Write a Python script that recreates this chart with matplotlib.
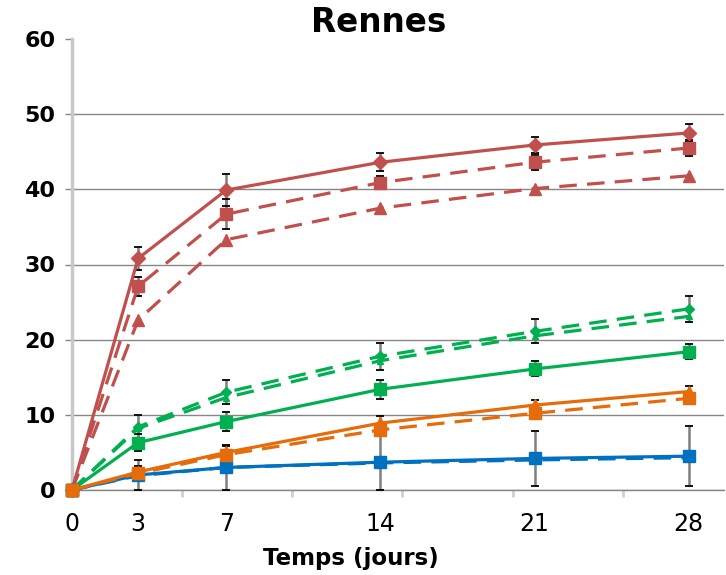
import numpy as np
import matplotlib
matplotlib.use("Agg")
import matplotlib.pyplot as plt

# --- données (jours / valeurs moyennes / écarts) ---
jours = [0, 3, 7, 14, 21, 28]

rouge_plein = [0, 30.8, 39.9, 43.6, 45.9, 47.5]
rouge_plein_err = [0, 1.5, 2.1, 1.2, 1.1, 1.2]
rouge_carre = [0, 27.1, 36.7, 40.9, 43.6, 45.5]
rouge_carre_err = [0, 1.3, 2.0, 0.9, 1.0, 1.0]
rouge_tri = [0, 22.6, 33.3, 37.5, 40.1, 41.8]

vert_plein = [0, 6.3, 9.1, 13.4, 16.1, 18.4]
vert_plein_err = [0, 1.1, 1.3, 1.3, 1.0, 1.0]
vert_tiret1 = [0, 8.4, 13.0, 17.8, 21.1, 24.1]
vert_tiret2 = [0, 8.2, 12.3, 17.2, 20.5, 23.1]
vert_tiret_err = [0, 1.6, 1.6, 1.8, 1.6, 1.7]

orange_plein = [0, 2.4, 5.0, 8.9, 11.3, 13.1]
orange_plein_err = [0, 0.8, 0.8, 0.9, 0.7, 0.8]
orange_tiret = [0, 2.2, 4.7, 8.0, 10.2, 12.2]

bleu_plein = [0, 2.0, 3.0, 3.7, 4.2, 4.5]
bleu_err = [0, 2.0, 3.0, 3.7, 3.7, 4.0]
bleu_tiret = [0, 1.9, 3.0, 3.6, 4.0, 4.3]

ROUGE = '#C0504D'
VERT = '#00B050'
ORANGE = '#E46C0A'
BLEU = '#0070C0'

fig = plt.figure(figsize=(7.26, 5.75), dpi=100)
ax = fig.add_axes([72 / 726, 1 - 490 / 575, 652 / 726, 451 / 575])

TIRETS = (5.5, 3.2)
LW = 2.3


def serie(y, couleur, marqueur, ms, err=None, tiret=False, z=3):
    kw = dict(color=couleur, lw=LW, marker=marqueur, ms=ms, mec=couleur,
              mfc=couleur, zorder=z, clip_on=False)
    if tiret:
        kw['dashes'] = TIRETS
    if err is not None:
        ax.errorbar(jours, y, yerr=err, fmt='none', ecolor='#7F7F7F',
                    elinewidth=1.8, capsize=0, zorder=z - 0.5, clip_on=False)
        # petites barres noires aux extrémités
        y_arr = np.array(y)
        e_arr = np.array(err)
        m = e_arr > 0
        ax.plot(np.array(jours)[m], (y_arr + e_arr)[m], ls='none', marker='_',
                ms=6, mew=1.3, color='black', zorder=z - 0.4, clip_on=False)
        ax.plot(np.array(jours)[m], np.maximum(y_arr - e_arr, 0)[m], ls='none',
                marker='_', ms=6, mew=1.3, color='black', zorder=z - 0.4,
                clip_on=False)
    ax.plot(jours, y, **kw)


# rouge
serie(rouge_tri, ROUGE, '^', 8, tiret=True, z=3)
serie(rouge_carre, ROUGE, 's', 8, err=rouge_carre_err, tiret=True, z=3)
serie(rouge_plein, ROUGE, 'D', 7, err=rouge_plein_err, z=3)

# vert
serie(vert_tiret2, VERT, '^', 5, tiret=True, z=4)
serie(vert_tiret1, VERT, 'D', 5, err=vert_tiret_err, tiret=True, z=4)
serie(vert_plein, VERT, 's', 8, err=vert_plein_err, z=4)

# bleu
serie(bleu_tiret, BLEU, None, 0, tiret=True, z=5)
serie(bleu_plein, BLEU, 's', 9, err=bleu_err, z=5)

# orange
serie(orange_tiret, ORANGE, 's', 8, tiret=True, z=6)
serie(orange_plein, ORANGE, '^', 8, err=orange_plein_err, z=6)

# axes
ax.set_xlim(0, 29.6)
ax.set_ylim(0, 60)
ax.set_yticks(range(0, 61, 10))
ax.set_yticklabels([str(v) for v in range(0, 61, 10)], fontsize=16,
                   fontweight='bold')
ax.yaxis.grid(True, color='#868686', lw=1)
ax.yaxis.get_gridlines()[-1].set_visible(False)
ax.set_axisbelow(True)

# étiquettes aux jours de mesure, petites graduations tous les 5 jours
ax.set_xticks(jours)
ax.set_xticklabels([str(j) for j in jours], fontsize=17)
ax.set_xticks(range(5, 26, 5), minor=True)
ax.tick_params(axis='x', which='major', length=0, pad=16)
ax.tick_params(axis='x', which='minor', length=5, width=2, color='#D0D0D0')
ax.tick_params(axis='y', length=5, width=1, color='#868686', pad=7)

for s in ('top', 'right'):
    ax.spines[s].set_visible(False)
ax.spines['left'].set_color('#C8C8C8')
ax.spines['left'].set_linewidth(2.5)
ax.spines['bottom'].set_color('#868686')
ax.spines['bottom'].set_linewidth(1)

ax.set_xlabel('Temps (jours)', fontsize=16.5, fontweight='bold')
ax.xaxis.set_label_coords(0.428, -0.127)
ax.set_title('Rennes', fontsize=23.5, fontweight='bold', x=0.47, pad=-6)

fig.savefig('out.png', dpi=100)
